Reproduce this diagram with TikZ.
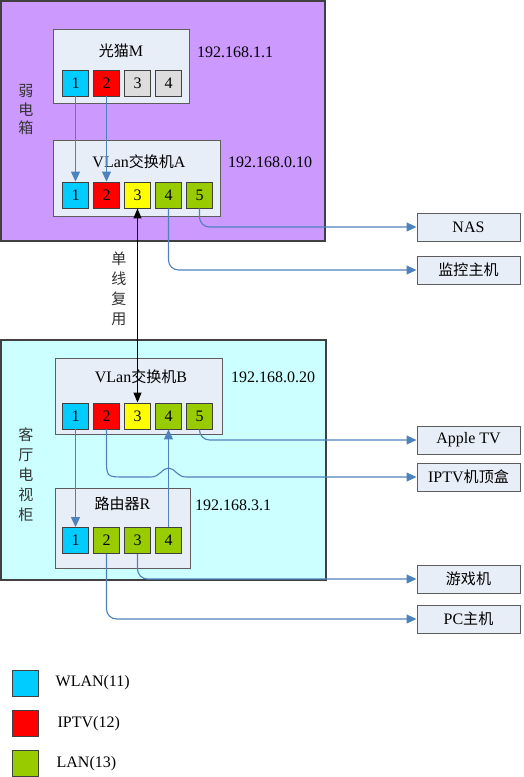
\documentclass[tikz,border=0pt]{standalone}
\usepackage{fontspec}
\setmainfont{Liberation Serif}
\newfontfamily\cjk{Noto Sans CJK SC}[Scale=0.94]
\newcommand{\zh}[1]{{\cjk #1}}
\usetikzlibrary{arrows.meta,positioning,shadows}

\definecolor{boxpurple}{RGB}{204,153,255}
\definecolor{boxcyan}{RGB}{204,255,255}
\definecolor{devfill}{RGB}{232,238,247}
\definecolor{wlan}{RGB}{0,204,255}
\definecolor{iptv}{RGB}{255,0,0}
\definecolor{yel}{RGB}{255,255,0}
\definecolor{lan}{RGB}{153,204,0}
\definecolor{unused}{RGB}{221,221,221}
\definecolor{linkblue}{RGB}{79,129,189}
\definecolor{edge}{RGB}{64,64,64}

\begin{document}
\begin{tikzpicture}[
    x=1pt, y=-1pt,
    font=\fontsize{16}{18}\selectfont,
    area/.style={draw=edge, line width=1.2pt, inner sep=0},
    dev/.style={draw=edge!85, fill=devfill, line width=1pt, inner sep=0,
        drop shadow={shadow xshift=1.2pt, shadow yshift=-1.2pt, fill=black!45, opacity=0.6}},
    port/.style={draw=edge, line width=0.9pt, minimum size=26pt, inner sep=0},
    txt/.style={inner sep=0},
    vtxt/.style={inner sep=0, align=center, text=black!80},
    link/.style={draw=linkblue, line width=1.1pt, rounded corners=10pt, -{Triangle[length=10pt,width=9pt]}},
    trunk/.style={line width=1.2pt, {Triangle[length=10pt,width=8pt]}-{Triangle[length=10pt,width=8pt]}}
]
\useasboundingbox (0,0) rectangle (523,777);

% containers
\node[area, fill=boxpurple, minimum width=324pt, minimum height=240pt] (box1) at (163,121) {};
\node[area, fill=boxcyan, minimum width=325pt, minimum height=240pt] (box2) at (163.5,460) {};
\node[vtxt, font=\fontsize{16}{18.5}\selectfont] (box1t) at (26,110) {\zh{弱}\\\zh{电}\\\zh{箱}};
\node[vtxt, font=\fontsize{16}{20}\selectfont] (box2t) at (26,475) {\zh{客}\\\zh{厅}\\\zh{电}\\\zh{视}\\\zh{柜}};

% devices
\node[dev, minimum width=136pt, minimum height=74pt] (M) at (121,66) {};
\node[dev, minimum width=167pt, minimum height=76pt] (A) at (136.5,178) {};
\node[dev, minimum width=167pt, minimum height=76pt] (B) at (138.5,396) {};
\node[dev, minimum width=135pt, minimum height=80pt] (R) at (122.5,528) {};
\node[txt] (Mt) at (121,51) {\zh{光猫}M};
\node[txt] (At) at (139,162) {VLan\zh{交换机}A};
\node[txt] (Bt) at (141,377) {VLan\zh{交换机}B};
\node[txt] (Rt) at (122.5,504) {\zh{路由器}R};
\node[txt, anchor=west] (Mip) at (197,52) {192.168.1.1};
\node[txt, anchor=west] (Aip) at (228,162) {192.168.0.10};
\node[txt, anchor=west] (Bip) at (231,377) {192.168.0.20};
\node[txt, anchor=west] (Rip) at (195,505) {192.168.3.1};

% ports
\foreach \i/\c in {1/wlan,2/iptv,3/unused,4/unused}
    \node[port, fill=\c] (m\i) at ({75.5+31*(\i-1)},83) {\i};
\foreach \i/\c in {1/wlan,2/iptv,3/yel,4/lan,5/lan}
    \node[port, fill=\c] (a\i) at ({75.5+31*(\i-1)},195) {\i};
\foreach \i/\c in {1/wlan,2/iptv,3/yel,4/lan,5/lan}
    \node[port, fill=\c] (b\i) at ({75.5+31*(\i-1)},416) {\i};
\foreach \i/\c in {1/wlan,2/lan,3/lan,4/lan}
    \node[port, fill=\c] (r\i) at ({75.5+31*(\i-1)},540.5) {\i};

% end devices
\node[dev, minimum width=103pt, minimum height=28pt] (nas) at (468.5,227) {NAS};
\node[dev, minimum width=103pt, minimum height=28pt] (mon) at (468.5,270) {\zh{监控主机}};
\node[dev, minimum width=103pt, minimum height=28pt] (atv) at (468.5,440) {Apple TV};
\node[dev, minimum width=103pt, minimum height=28pt] (stb) at (468.5,477) {IPTV\zh{机顶盒}};
\node[dev, minimum width=103pt, minimum height=28pt] (game) at (468.5,579) {\zh{游戏机}};
\node[dev, minimum width=103pt, minimum height=28pt] (pc) at (468.5,619) {PC\zh{主机}};

% links
\draw[link] (m1) -- (a1);
\draw[link] (m2) -- (a2);
\draw[trunk] (a3) -- (b3);
\node[vtxt, font=\fontsize{16}{20}\selectfont] (trunkt) at (119,288.5) {\zh{单}\\\zh{线}\\\zh{复}\\\zh{用}};
\draw[link] (a5) |- (nas);
\draw[link] (a4) |- (mon);
\draw[link] (b5) |- (atv);
\draw[link, sharp corners] (b2.south) -- (106.5,458) .. controls (106.5,477) .. (125,477) -- (151,477)
    .. controls (160,477) and (162,468) .. (168.5,468)
    .. controls (175,468) and (177,477) .. (186,477) -- (stb.west);
\draw[link] (b1) -- (r1);
\draw[link] (r4) -- (b4);
\draw[link] (r3) |- (game);
\draw[link] (r2) |- (pc);

% legend
\node[port, fill=wlan] (kw) at (25,683) {};
\node[port, fill=iptv] (ki) at (25,723.5) {};
\node[port, fill=lan] (kl) at (25,763.5) {};
\node[txt, right=17pt of kw] (kwt) {WLAN(11)};
\node[txt, right=19pt of ki] (kit) {IPTV(12)};
\node[txt, right=18pt of kl] (klt) {LAN(13)};
\end{tikzpicture}
\end{document}
